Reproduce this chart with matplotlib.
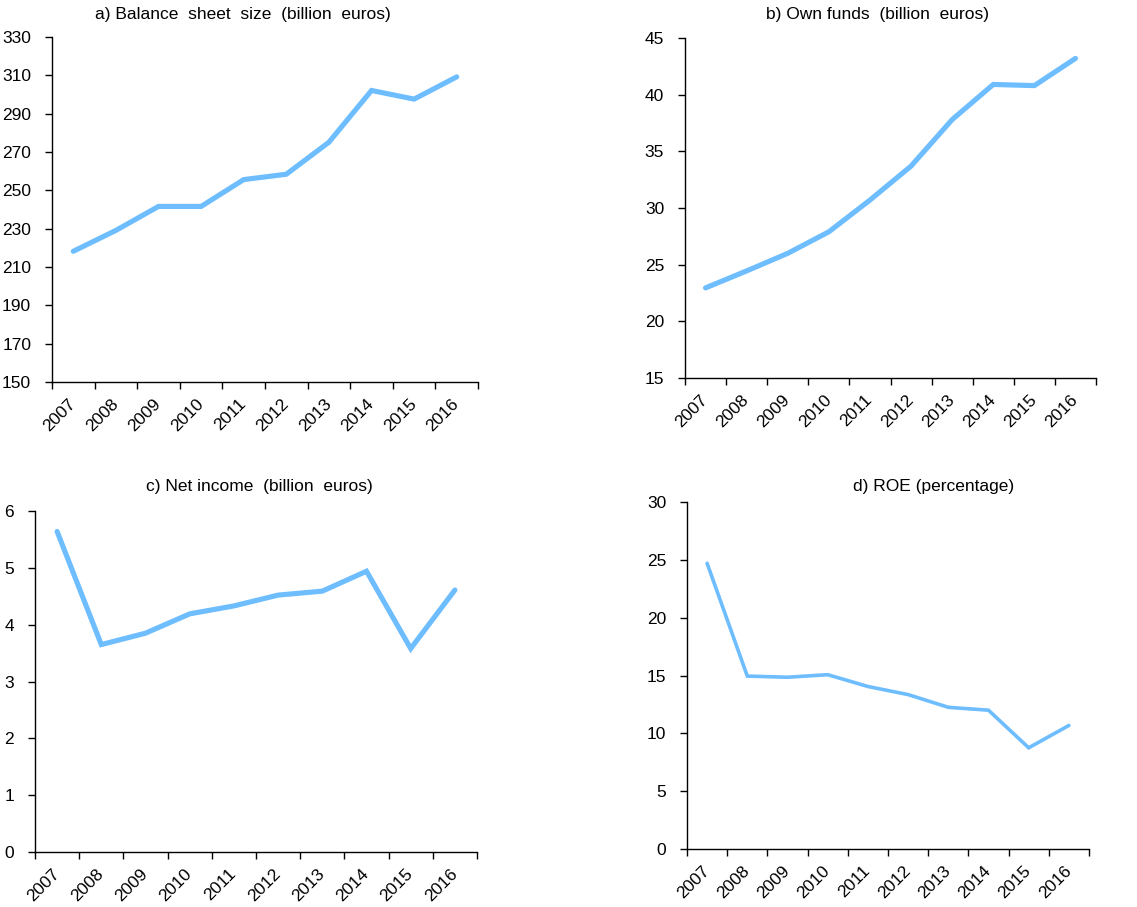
import matplotlib
matplotlib.use("Agg")
import matplotlib.pyplot as plt
import numpy as np

plt.rcParams['font.family'] = ['Liberation Sans', 'DejaVu Sans']

years = ['2007', '2008', '2009', '2010', '2011', '2012', '2013', '2014', '2015', '2016']
balance_sheet = [218.2, 229.1, 241.6, 241.6, 255.6, 258.4, 275.1, 302.1, 297.6, 309.2]
own_funds = [22.95, 24.45, 26.0, 27.9, 30.7, 33.7, 37.8, 40.9, 40.8, 43.2]
net_income = [5.64, 3.65, 3.85, 4.19, 4.33, 4.52, 4.59, 4.94, 3.58, 4.61]
roe = [24.7, 14.95, 14.85, 15.07, 14.05, 13.35, 12.25, 12.0, 8.75, 10.68]

titles = ['a) Balance  sheet  size  (billion  euros)', 'b) Own funds  (billion  euros)',
          'c) Net income  (billion  euros)', 'd) ROE (percentage)']
yticks_list = [np.arange(150, 331, 20), np.arange(15, 46, 5), np.arange(0, 7, 1), np.arange(0, 31, 5)]

W, H = 1137, 907
fig = plt.figure(figsize=(W / 100, H / 100), dpi=100)

# axes boxes in pixels: left, right, top, bottom
boxes = [(52, 478, 37, 382), (685, 1096, 38, 378), (35, 477, 511, 852), (687, 1089, 502, 849)]
series = [balance_sheet, own_funds, net_income, roe]
lws = [3.7, 3.7, 3.7, 2.6]
title_pos = [(243, 15), (877, 15), (259, 487), (934, 487)]
color = '#6DBDFF'

for i in range(4):
    l, r, t, b = boxes[i]
    ax = fig.add_axes([l / W, (H - b) / H, (r - l) / W, (b - t) / H])
    x = np.arange(len(years)) + 0.5
    ax.plot(x, series[i], color=color, lw=lws[i], solid_capstyle='round', solid_joinstyle='miter')
    yt = yticks_list[i]
    ax.set_ylim(yt[0], yt[-1])
    ax.set_yticks(yt)
    ax.set_yticklabels([str(v) for v in yt])
    ax.set_xlim(0, len(years))
    ax.set_xticks(np.arange(len(years) + 1))
    ax.set_xticklabels([])
    ax.set_xticks(x, minor=True)
    ax.set_xticklabels(years, minor=True, rotation=45, ha='right', va='center', rotation_mode='anchor')
    ax.tick_params(axis='x', which='minor', length=0, pad=14, labelsize=12.5)
    ax.tick_params(axis='x', which='major', length=5, width=1, direction='out')
    ax.tick_params(axis='y', length=5, width=1, direction='out', pad=10, labelsize=12.5)
    for s in ['top', 'right']:
        ax.spines[s].set_visible(False)
    for s in ['left', 'bottom']:
        ax.spines[s].set_linewidth(1)
    ax.patch.set_alpha(0)
    fig.text(title_pos[i][0] / W, 1 - title_pos[i][1] / H, titles[i], ha='center', va='center', fontsize=12.5)

fig.savefig('out.png', dpi=100)
